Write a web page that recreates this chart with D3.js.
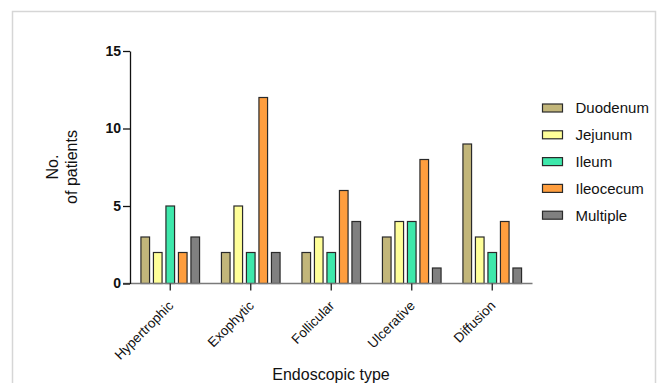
<!DOCTYPE html>
<html>
<head>
<meta charset="utf-8">
<script src="https://cdn.jsdelivr.net/npm/d3@7"></script>
<style>
  html, body { margin: 0; padding: 0; background: #ffffff; }
  svg { display: block; font-family: "Liberation Sans", Arial, Helvetica, sans-serif; }
</style>
</head>
<body>
<svg id="chart" width="659" height="383"></svg>
<script>
// Endoscopic types (x categories) and lesion sites (series)
const categories = ["Hypertrophic", "Exophytic", "Follicular", "Ulcerative", "Diffusion"];
const seriesNames = ["Duodenum", "Jejunum", "Ileum", "Ileocecum", "Multiple"];
const seriesColors = ["#c2b67a", "#ffff99", "#3ee8ab", "#ff9e3e", "#808080"];

// Number of patients per site, in category order
const duodenum  = [3, 2, 2, 3, 9];
const jejunum   = [2, 5, 3, 4, 3];
const ileum     = [5, 2, 2, 4, 2];
const ileocecum = [2, 12, 6, 8, 4];
const multiple  = [3, 2, 4, 1, 1];

const yTicks = [0, 5, 10, 15];
const yTitleLines = ["No.", "of patients"];
const xTitle = "Endoscopic type";

const seriesValues = [duodenum, jejunum, ileum, ileocecum, multiple];
const rows = categories.map((c, i) => ({
  category: c,
  values: seriesNames.map((s, j) => ({ series: s, value: seriesValues[j][i] }))
}));

const svg = d3.select("#chart");

// outer frame
svg.append("rect")
  .attr("x", 12.5).attr("y", 11.5)
  .attr("width", 643).attr("height", 420)
  .attr("fill", "none")
  .attr("stroke", "#d6d6d6")
  .attr("stroke-width", 1.5);

const plotLeft = 130, plotRight = 532.5, plotTop = 51, plotBottom = 283.5;

const x0 = d3.scaleBand().domain(categories).range([plotLeft, plotRight]).padding(0);
const groupWidth = 62.5;
const x1 = d3.scaleBand().domain(seriesNames)
  .range([x0.bandwidth() / 2 - groupWidth / 2, x0.bandwidth() / 2 + groupWidth / 2])
  .paddingInner(0.31).paddingOuter(0.155);
const y = d3.scaleLinear().domain([0, 15]).range([plotBottom, plotTop]);
const color = d3.scaleOrdinal().domain(seriesNames).range(seriesColors);

// bars
const groups = svg.append("g").selectAll("g")
  .data(rows).join("g")
  .attr("transform", d => `translate(${x0(d.category)},0)`);

groups.selectAll("rect")
  .data(d => d.values).join("rect")
  .attr("x", d => x1(d.series))
  .attr("y", d => y(d.value))
  .attr("width", x1.bandwidth())
  .attr("height", d => y(0) - y(d.value))
  .attr("fill", d => color(d.series))
  .attr("stroke", "#2a2a2a")
  .attr("stroke-width", 1.2);

// x axis: gray baseline, dark ticks, rotated labels
svg.append("line")
  .attr("x1", plotLeft - 7).attr("x2", plotRight)
  .attr("y1", plotBottom).attr("y2", plotBottom)
  .attr("stroke", "#7a7a7a").attr("stroke-width", 1.6);

const xAxis = svg.append("g")
  .attr("transform", `translate(0,${plotBottom})`)
  .call(d3.axisBottom(x0).tickSize(7).tickSizeOuter(0));
xAxis.select(".domain").remove();
xAxis.selectAll(".tick line").attr("stroke", "#222").attr("stroke-width", 1.3);
xAxis.selectAll(".tick text")
  .attr("font-size", 13.5)
  .attr("fill", "#111")
  .attr("text-anchor", "end")
  .attr("dy", null)
  .attr("y", 0)
  .attr("transform", "translate(4,23) rotate(-45)");

// y axis
const yAxis = svg.append("g")
  .attr("transform", `translate(${plotLeft},0)`)
  .call(d3.axisLeft(y).tickValues(yTicks).tickSize(7).tickPadding(2).tickSizeOuter(0));
yAxis.select(".domain").attr("stroke", "#111").attr("stroke-width", 1.3);
yAxis.selectAll(".tick line").attr("stroke", "#111").attr("stroke-width", 1.3);
yAxis.selectAll(".tick text")
  .attr("font-size", 14)
  .attr("font-weight", "bold")
  .attr("fill", "#111");

// y axis title (two lines, rotated)
const yTitle = svg.append("text")
  .attr("transform", "translate(0,167) rotate(-90)")
  .attr("text-anchor", "middle")
  .attr("font-size", 16)
  .attr("fill", "#111");
yTitle.selectAll("tspan").data(yTitleLines).join("tspan")
  .attr("x", 0)
  .attr("y", (d, i) => 58 + i * 18.5)
  .text(d => d);

// x axis title
svg.append("text")
  .attr("x", 331).attr("y", 380)
  .attr("text-anchor", "middle")
  .attr("font-size", 16)
  .attr("fill", "#111")
  .text(xTitle);

// legend
const legend = svg.append("g").selectAll("g")
  .data(seriesNames).join("g")
  .attr("transform", (d, i) => `translate(542.5,${108 + i * 26.8})`);
legend.append("rect")
  .attr("x", 0).attr("y", -4)
  .attr("width", 20).attr("height", 8)
  .attr("fill", d => color(d))
  .attr("stroke", "#2a2a2a").attr("stroke-width", 1.2);
legend.append("text")
  .attr("x", 33).attr("y", 0)
  .attr("dy", "0.36em")
  .attr("font-size", 15)
  .attr("fill", "#111")
  .text(d => d);
</script>
</body>
</html>
